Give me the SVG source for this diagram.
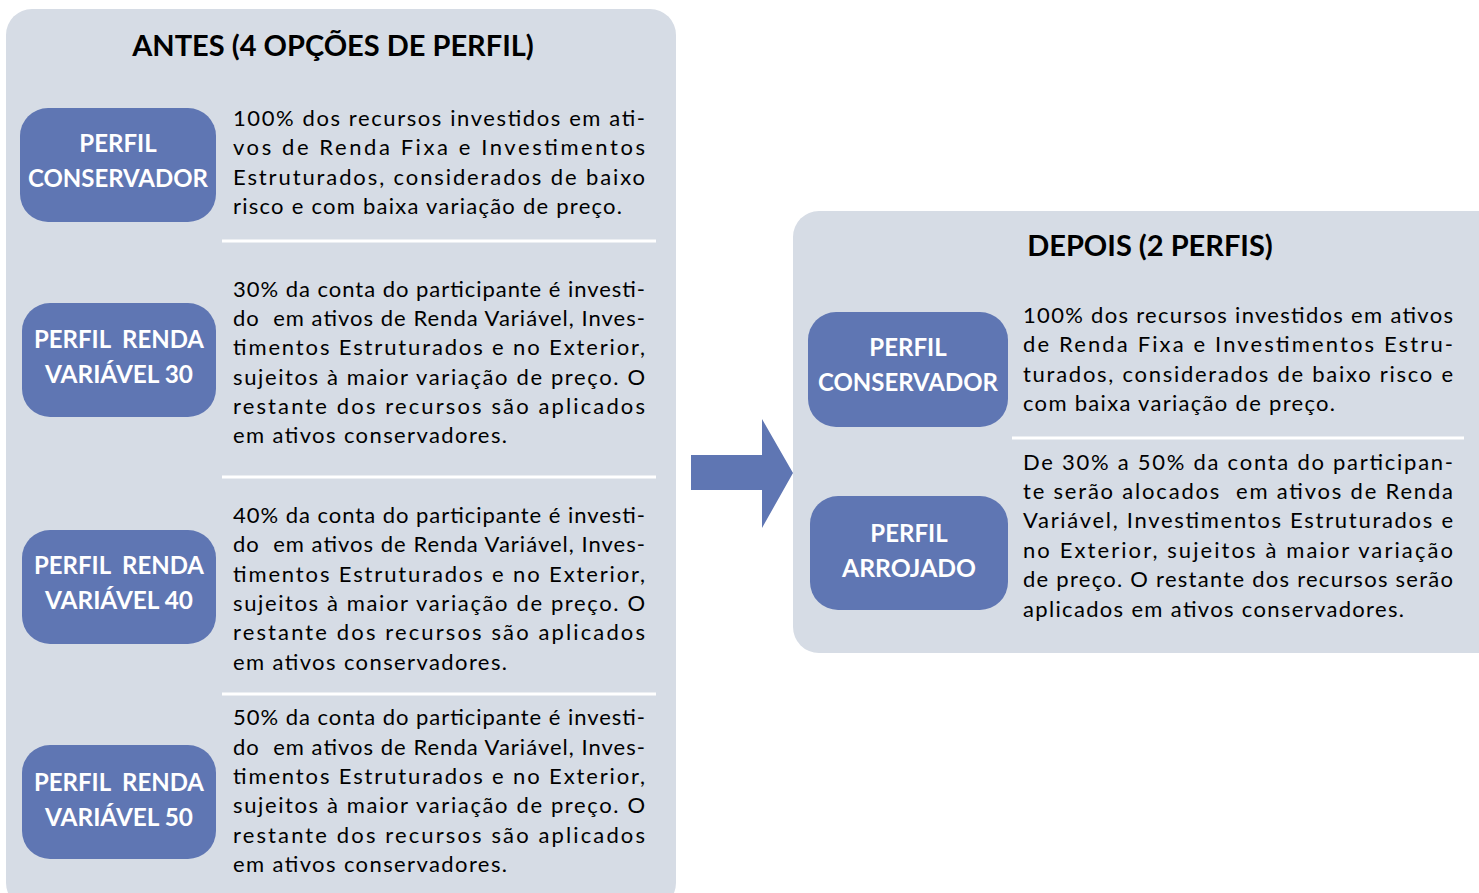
<svg xmlns="http://www.w3.org/2000/svg" width="1479" height="893" viewBox="0 0 1479 893">
<style>
.panel{fill:#D6DCE5}
.box{fill:#5F76B3}
.sep{stroke:#FFFFFF;stroke-width:3}
.title{font-family:Lato,"Liberation Sans",sans-serif;font-weight:bold;font-size:29px;fill:#000;text-anchor:middle}
.lbl{font-family:Lato,"Liberation Sans",sans-serif;font-weight:bold;font-size:24px;fill:#FFFFFF;text-anchor:middle;white-space:pre}
.body{font-family:Lato,"Liberation Sans",sans-serif;font-size:22px;fill:#000;white-space:pre}
</style>
<rect width="1479" height="893" fill="#FFFFFF"/>
<g id="antes">
<rect class="panel" x="6" y="9" width="670" height="900" rx="26"/>
<text class="title" x="333" y="56">ANTES (4 OPÇÕES DE PERFIL)</text>
<line class="sep" x1="222" y1="241" x2="656" y2="241"/>
<line class="sep" x1="222" y1="477" x2="656" y2="477"/>
<line class="sep" x1="222" y1="694" x2="656" y2="694"/>
</g>
<g id="antes-conservador">
<rect class="box" x="20" y="108" width="196" height="114" rx="28"/>
<text class="lbl" x="118" y="152">PERFIL</text>
<text class="lbl" x="118" y="187" textLength="180" lengthAdjust="spacingAndGlyphs">CONSERVADOR</text>
<text class="body" x="233" y="126" textLength="412" lengthAdjust="spacing">100% dos recursos investidos em ati-</text>
<text class="body" x="233" y="155" textLength="412" lengthAdjust="spacing">vos de Renda Fixa e Investimentos</text>
<text class="body" x="233" y="185" textLength="412" lengthAdjust="spacing">Estruturados, considerados de baixo</text>
<text class="body" x="233" y="214" textLength="389" lengthAdjust="spacing">risco e com baixa variação de preço.</text>
</g>
<g id="antes-rv30">
<rect class="box" x="22" y="303" width="194" height="114" rx="28"/>
<text class="lbl" x="119" y="348" textLength="170" lengthAdjust="spacingAndGlyphs">PERFIL  RENDA</text>
<text class="lbl" x="119" y="383" textLength="148" lengthAdjust="spacingAndGlyphs">VARIÁVEL 30</text>
<text class="body" x="233" y="297" textLength="412" lengthAdjust="spacing">30% da conta do participante é investi-</text>
<text class="body" x="233" y="326" textLength="412" lengthAdjust="spacing">do  em ativos de Renda Variável, Inves-</text>
<text class="body" x="233" y="355" textLength="412" lengthAdjust="spacing">timentos Estruturados e no Exterior,</text>
<text class="body" x="233" y="385" textLength="412" lengthAdjust="spacing">sujeitos à maior variação de preço. O</text>
<text class="body" x="233" y="414" textLength="412" lengthAdjust="spacing">restante dos recursos são aplicados</text>
<text class="body" x="233" y="443" textLength="274" lengthAdjust="spacing">em ativos conservadores.</text>
</g>
<g id="antes-rv40">
<rect class="box" x="22" y="530" width="194" height="114" rx="28"/>
<text class="lbl" x="119" y="574" textLength="170" lengthAdjust="spacingAndGlyphs">PERFIL  RENDA</text>
<text class="lbl" x="119" y="609" textLength="148" lengthAdjust="spacingAndGlyphs">VARIÁVEL 40</text>
<text class="body" x="233" y="523" textLength="412" lengthAdjust="spacing">40% da conta do participante é investi-</text>
<text class="body" x="233" y="552" textLength="412" lengthAdjust="spacing">do  em ativos de Renda Variável, Inves-</text>
<text class="body" x="233" y="582" textLength="412" lengthAdjust="spacing">timentos Estruturados e no Exterior,</text>
<text class="body" x="233" y="611" textLength="412" lengthAdjust="spacing">sujeitos à maior variação de preço. O</text>
<text class="body" x="233" y="640" textLength="412" lengthAdjust="spacing">restante dos recursos são aplicados</text>
<text class="body" x="233" y="670" textLength="274" lengthAdjust="spacing">em ativos conservadores.</text>
</g>
<g id="antes-rv50">
<rect class="box" x="22" y="745" width="194" height="114" rx="28"/>
<text class="lbl" x="119" y="791" textLength="170" lengthAdjust="spacingAndGlyphs">PERFIL  RENDA</text>
<text class="lbl" x="119" y="826" textLength="148" lengthAdjust="spacingAndGlyphs">VARIÁVEL 50</text>
<text class="body" x="233" y="725" textLength="412" lengthAdjust="spacing">50% da conta do participante é investi-</text>
<text class="body" x="233" y="755" textLength="412" lengthAdjust="spacing">do  em ativos de Renda Variável, Inves-</text>
<text class="body" x="233" y="784" textLength="412" lengthAdjust="spacing">timentos Estruturados e no Exterior,</text>
<text class="body" x="233" y="813" textLength="412" lengthAdjust="spacing">sujeitos à maior variação de preço. O</text>
<text class="body" x="233" y="843" textLength="412" lengthAdjust="spacing">restante dos recursos são aplicados</text>
<text class="body" x="233" y="872" textLength="274" lengthAdjust="spacing">em ativos conservadores.</text>
</g>
<g id="depois">
<rect class="panel" x="793" y="211" width="720" height="442" rx="26"/>
<text class="title" x="1150" y="256">DEPOIS (2 PERFIS)</text>
<line class="sep" x1="1012" y1="438" x2="1464" y2="438"/>
</g>
<g id="depois-conservador">
<rect class="box" x="808" y="312" width="200" height="115" rx="28"/>
<text class="lbl" x="908" y="356">PERFIL</text>
<text class="lbl" x="908" y="391" textLength="180" lengthAdjust="spacingAndGlyphs">CONSERVADOR</text>
<text class="body" x="1023" y="323" textLength="430" lengthAdjust="spacing">100% dos recursos investidos em ativos</text>
<text class="body" x="1023" y="352" textLength="430" lengthAdjust="spacing">de Renda Fixa e Investimentos Estru-</text>
<text class="body" x="1023" y="382" textLength="430" lengthAdjust="spacing">turados, considerados de baixo risco e</text>
<text class="body" x="1023" y="411" textLength="312" lengthAdjust="spacing">com baixa variação de preço.</text>
</g>
<g id="depois-arrojado">
<rect class="box" x="810" y="496" width="198" height="114" rx="28"/>
<text class="lbl" x="909" y="542">PERFIL</text>
<text class="lbl" x="909" y="577" textLength="134" lengthAdjust="spacingAndGlyphs">ARROJADO</text>
<text class="body" x="1023" y="470" textLength="430" lengthAdjust="spacing">De 30% a 50% da conta do participan-</text>
<text class="body" x="1023" y="499" textLength="430" lengthAdjust="spacing">te serão alocados  em ativos de Renda</text>
<text class="body" x="1023" y="528" textLength="430" lengthAdjust="spacing">Variável, Investimentos Estruturados e</text>
<text class="body" x="1023" y="558" textLength="430" lengthAdjust="spacing">no Exterior, sujeitos à maior variação</text>
<text class="body" x="1023" y="587" textLength="430" lengthAdjust="spacing">de preço. O restante dos recursos serão</text>
<text class="body" x="1023" y="617" textLength="381" lengthAdjust="spacing">aplicados em ativos conservadores.</text>
</g>
<g id="connectors">
<polygon fill="#5F76B3" points="691,455 762,455 762,419 793,473 762,528 762,490 691,490"/>
</g>
</svg>
